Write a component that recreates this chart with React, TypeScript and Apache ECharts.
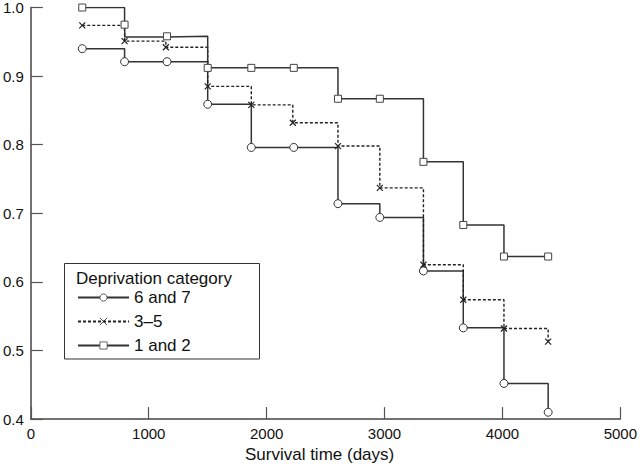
import React, { useEffect, useRef } from "react";
import * as echarts from "echarts";

// Survival time (days) at which each annual estimate is plotted
const times67 = [436, 795, 1155, 1500, 1870, 2230, 2605, 2960, 3330, 3668, 4013, 4388];
const surv67 = [0.94, 0.921, 0.921, 0.859, 0.796, 0.796, 0.714, 0.694, 0.616, 0.533, 0.452, 0.41];

const times35 = [436, 795, 1145, 1500, 1870, 2222, 2605, 2960, 3330, 3668, 4013, 4388];
const surv35 = [0.974, 0.951, 0.942, 0.885, 0.858, 0.832, 0.798, 0.737, 0.625, 0.574, 0.532, 0.513];

const times12 = [436, 795, 797, 1155, 1500, 1870, 2230, 2605, 2960, 3330, 3668, 4013, 4388];
const surv12 = [1.0, 0.975, 0.957, 0.958, 0.912, 0.912, 0.912, 0.867, 0.867, 0.775, 0.683, 0.637, 0.637];
const marked12 = [true, true, false, true, true, true, true, true, true, true, true, true, true];

const seriesNames = ["6 and 7", "3\u20135", "1 and 2"];
const legendTitle = "Deprivation category";
const xTitle = "Survival time (days)";

const FONT = '"Liberation Sans", Arial, Helvetica, sans-serif';

export default function App() {
  const ref = useRef<HTMLDivElement>(null);
  useEffect(() => {
    const chart = echarts.init(ref.current!, null, { renderer: "svg" });
    const d67 = times67.map((t, i) => [t, surv67[i]]);
    const d35 = times35.map((t, i) => [t, surv35[i]]);
    const d12 = times12.map((t, i) =>
      marked12[i] ? { value: [t, surv12[i]] } : { value: [t, surv12[i]], symbol: "none" }
    );
    chart.setOption({
      animation: false,
      backgroundColor: "#fff",
      textStyle: { fontFamily: FONT },
      grid: { left: 27, right: 17, top: 5.3, bottom: 43, containLabel: false },
      xAxis: {
        type: "value",
        min: 0,
        max: 5000,
        interval: 1000,
        name: xTitle,
        nameLocation: "middle",
        nameGap: 24,
        nameTextStyle: { fontSize: 17, color: "#111", fontFamily: FONT, padding: [0, 12, 0, 0] },
        axisLine: { show: true, onZero: false, lineStyle: { color: "#444", width: 1.5 } },
        axisTick: { show: true, inside: true, length: 12, lineStyle: { color: "#555", width: 1.2 } },
        axisLabel: {
          fontSize: 15,
          color: "#111",
          margin: 7,
          fontFamily: FONT,
          formatter: (v: number) => String(v),
        },
        splitLine: { show: false },
      },
      yAxis: {
        type: "value",
        min: 0.4,
        max: 1.0,
        interval: 0.1,
        axisLine: { show: true, onZero: false, lineStyle: { color: "#444", width: 1.5 } },
        axisTick: { show: true, inside: true, length: 12, lineStyle: { color: "#555", width: 1.2 } },
        axisLabel: {
          fontSize: 15,
          color: "#111",
          margin: 7,
          fontFamily: FONT,
          formatter: (v: number) => v.toFixed(1),
        },
        splitLine: { show: false },
      },
      legend: {
        show: true,
        orient: "vertical",
        left: 77,
        top: 289,
        padding: 0,
        itemGap: 7,
        itemWidth: 51,
        itemHeight: 9,
        itemStyle: { borderWidth: 0.8 },
        textStyle: { fontSize: 17, color: "#111", fontFamily: FONT },
        data: seriesNames,
      },
      graphic: [
        {
          type: "rect",
          shape: { x: 64.5, y: 263.5, width: 195, height: 95.5 },
          style: { fill: "none", stroke: "#333", lineWidth: 1 },
          z: 0,
        },
        {
          type: "text",
          x: 76,
          y: 278,
          style: {
            text: legendTitle,
            fontSize: 17,
            fontFamily: FONT,
            fill: "#111",
            verticalAlign: "middle",
            align: "left",
          },
        },
      ],
      series: [
        {
          name: seriesNames[0],
          type: "line",
          step: "end",
          data: d67,
          symbol: "circle",
          symbolSize: 8,
          showAllSymbol: true,
          lineStyle: { color: "#333", width: 1.5, type: "solid" },
          itemStyle: { color: "#fff", borderColor: "#333", borderWidth: 1 },
          z: 2,
        },
        {
          name: seriesNames[1],
          type: "line",
          step: "end",
          data: d35,
          symbol: "path://M0,0L10,10M10,0L0,10",
          symbolSize: 6,
          showAllSymbol: true,
          lineStyle: { color: "#222", width: 1.4, type: [3, 2] },
          itemStyle: { color: "#222", borderColor: "#222", borderWidth: 1.2 },
          z: 3,
        },
        {
          name: seriesNames[2],
          type: "line",
          step: "end",
          data: d12,
          symbol: "rect",
          symbolSize: 7,
          showAllSymbol: true,
          lineStyle: { color: "#333", width: 1.5, type: "solid" },
          itemStyle: { color: "#fff", borderColor: "#444", borderWidth: 1 },
          z: 4,
        },
      ],
    });
    return () => chart.dispose();
  }, []);
  return (
    <div
      ref={ref}
      style={{ position: "fixed", left: 0, top: 0, width: 640, height: 468, background: "#fff" }}
    />
  );
}
